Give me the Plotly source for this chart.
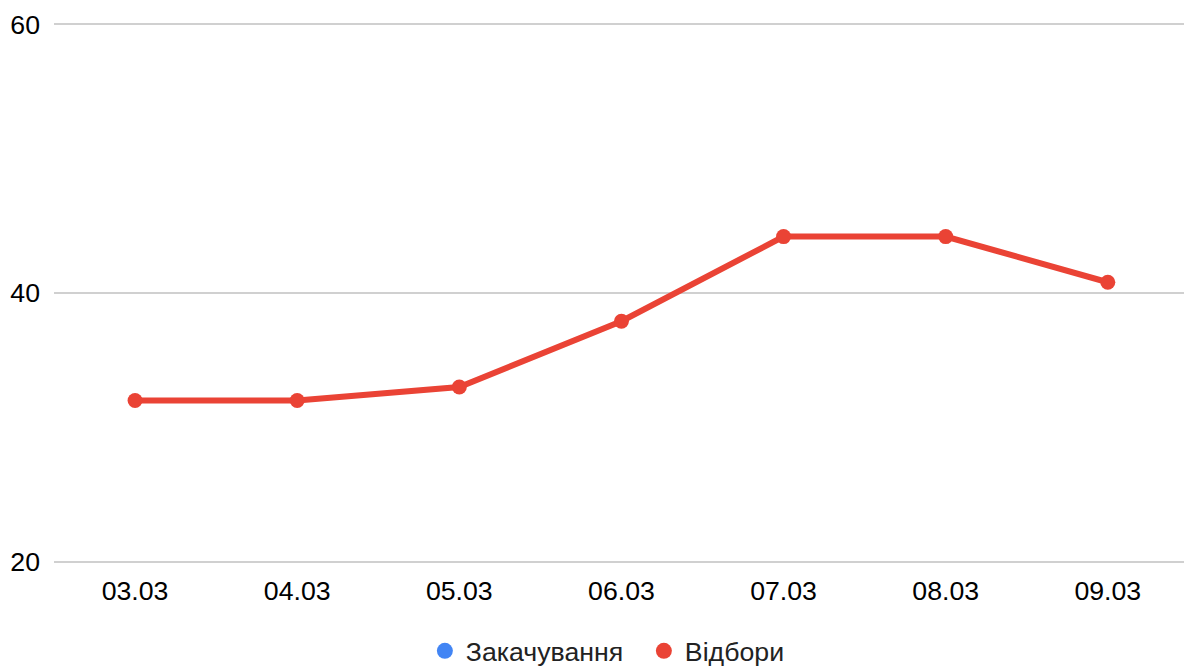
import plotly.graph_objects as go

dates = ["03.03", "04.03", "05.03", "06.03", "07.03", "08.03", "09.03"]
zakachuvannia = [None, None, None, None, None, None, None]
vidbory = [32.0, 32.0, 33.0, 37.9, 44.2, 44.2, 40.8]
y_ticks = [20, 40, 60]

BLUE = "#4285F4"
RED = "#EA4335"
FONT = "Liberation Sans, Arial, sans-serif"
FS = 26.7

fig = go.Figure()
fig.add_trace(go.Scatter(x=dates, y=zakachuvannia, mode="lines+markers", name="Закачування",
                         line=dict(color=BLUE, width=6), marker=dict(size=15, color=BLUE),
                         showlegend=False))
fig.add_trace(go.Scatter(x=dates, y=vidbory, mode="lines+markers", name="Відбори",
                         line=dict(color=RED, width=6), marker=dict(size=15, color=RED),
                         showlegend=False))
# legend entries (circle-only symbols)
fig.add_trace(go.Scatter(x=[None], y=[None], mode="markers", name="Закачування",
                         marker=dict(size=19, color=BLUE)))
fig.add_trace(go.Scatter(x=[None], y=[None], mode="markers", name="Відбори",
                         marker=dict(size=19, color=RED)))

fig.update_layout(
    width=1184, height=669,
    margin=dict(l=54, r=0, t=23, b=106),
    plot_bgcolor="white", paper_bgcolor="white",
    font=dict(family=FONT, size=FS, color="#000000"),
    showlegend=True,
    legend=dict(orientation="h", xref="container", yref="container",
                x=0.358, xanchor="left", y=0.027, yanchor="middle",
                entrywidth=172, entrywidthmode="pixels",
                font=dict(size=FS, color="#222222"), itemwidth=32,
                bgcolor="rgba(0,0,0,0)"),
    xaxis=dict(type="category", categoryorder="array", categoryarray=dates,
               range=[-0.5, 6.47], showgrid=False, zeroline=False,
               showline=False, ticks="", ticklabelstandoff=9,
               tickfont=dict(size=FS, color="#000000")),
    yaxis=dict(range=[19.9, 60.1], tickvals=y_ticks, showgrid=True,
               gridcolor="#D0D0D0", gridwidth=1.5, zeroline=False, showline=False,
               ticks="", ticklabelstandoff=13,
               tickfont=dict(size=FS, color="#000000")),
)

fig.write_html("out.html")
